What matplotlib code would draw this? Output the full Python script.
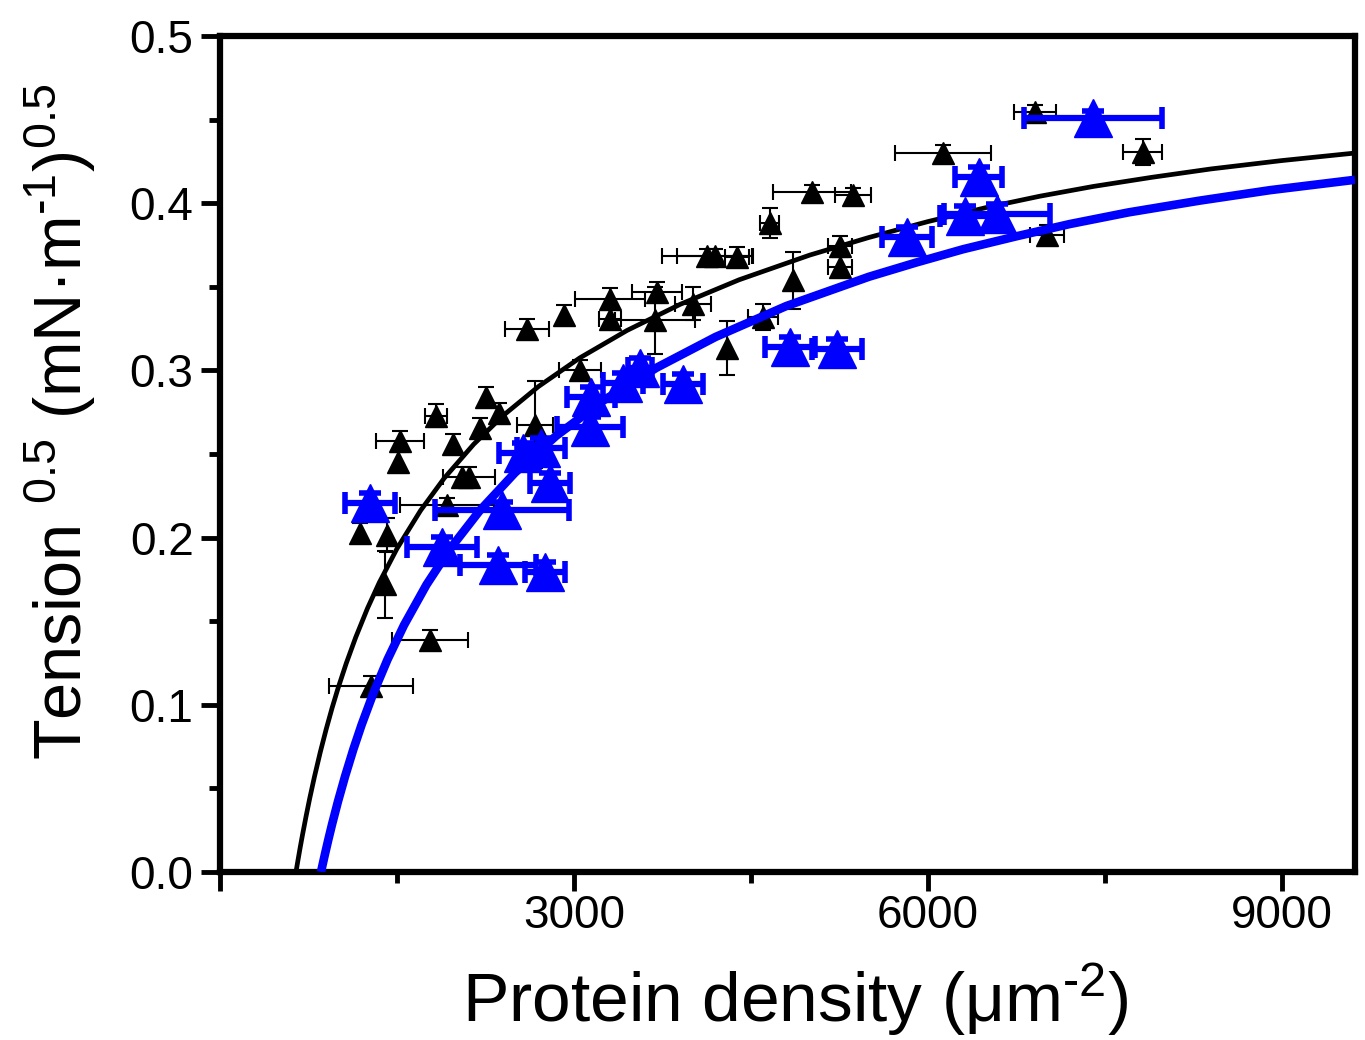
import matplotlib
matplotlib.use("Agg")
import matplotlib.pyplot as plt
from matplotlib.ticker import MultipleLocator

plt.rcParams['font.family'] = ['Liberation Sans', 'DejaVu Sans']
plt.rcParams['mathtext.fontset'] = 'custom'
plt.rcParams['mathtext.rm'] = 'Liberation Sans'
plt.rcParams['mathtext.it'] = 'Liberation Sans:italic'
plt.rcParams['mathtext.bf'] = 'Liberation Sans:bold'

# ---- data ----
black_x = [1280, 1780, 1398, 1186, 1415, 1525, 1508, 1830, 1975, 2050, 2110, 1924, 2254, 2203, 2364,
           2669, 2602, 2915, 3051, 3305, 3305, 3703, 3686, 4008, 4127, 4195, 4381, 4297, 4602, 4856,
           4661, 5017, 5364, 5254, 5254, 6127, 6907, 7822, 7008]
black_y = [0.111, 0.139, 0.172, 0.203, 0.2015, 0.258, 0.245, 0.273, 0.256, 0.236, 0.236, 0.2195, 0.284,
           0.2655, 0.2745, 0.2675, 0.325, 0.333, 0.300, 0.343, 0.331, 0.347, 0.330, 0.340, 0.3685,
           0.3685, 0.368, 0.3134, 0.332, 0.354, 0.388, 0.4067, 0.405, 0.3744, 0.362, 0.430, 0.4545,
           0.4306, 0.381]
black_xerr = [360, 325, 0, 0, 0, 200, 0, 95, 0, 0, 220, 400, 0, 0, 0, 150, 190, 0, 180, 300, 90, 210,
              340, 150, 380, 320, 100, 0, 130, 0, 80, 330, 150, 100, 100, 410, 180, 165, 145]
black_yerr = [0.006, 0.006, 0.02, 0.006, 0.01, 0.006, 0.006, 0.007, 0.006, 0.006, 0.006, 0.004, 0.006,
              0.006, 0.006, 0.026, 0.006, 0.006, 0.006, 0.006, 0.006, 0.006, 0.02, 0.01, 0.004, 0.004,
              0.006, 0.016, 0.008, 0.017, 0.009, 0.004, 0.004, 0.006, 0.006, 0.005, 0.004, 0.008, 0.006]

blue_x = [1271, 1881, 2356, 2754, 2390, 2797, 2568, 2720, 3136, 3144, 3415, 3559, 3924, 4831, 5229,
          5822, 6314, 6585, 6432, 7398]
blue_y = [0.2207, 0.1944, 0.1836, 0.1794, 0.2165, 0.2327, 0.2506, 0.2536, 0.2661, 0.284, 0.2925,
          0.3014, 0.2919, 0.314, 0.3128, 0.3798, 0.3923, 0.3935, 0.4157, 0.451]
blue_xerr = [210, 297, 320, 170, 570, 170, 200, 200, 280, 200, 170, 100, 170, 210, 210, 210, 210, 450,
             200, 585]
blue_yerr = [0.006, 0.006, 0.006, 0.006, 0.005, 0.006, 0.006, 0.006, 0.006, 0.006, 0.006, 0.006, 0.006,
             0.006, 0.006, 0.006, 0.006, 0.006, 0.006, 0.004]

# fitted curves
black_fit_x = [644, 660, 680, 700, 730, 760, 800, 850, 900, 950, 1000, 1070, 1150, 1250, 1350, 1500,
               1700, 1900, 2150, 2400, 2700, 3050, 3450, 3900, 4400, 5000, 5500, 6000, 6500, 6950,
               7400, 7900, 8400, 9000, 9620]
black_fit_y = [0.0, 0.0067, 0.0148, 0.0225, 0.0335, 0.0439, 0.0568, 0.0717, 0.0854, 0.0981, 0.1098,
               0.1248, 0.1403, 0.1577, 0.1731, 0.1934, 0.2162, 0.2355, 0.2558, 0.2730, 0.2904, 0.3075,
               0.3239, 0.3395, 0.3542, 0.3690, 0.3795, 0.3890, 0.3975, 0.4042, 0.4100, 0.4155,
               0.4205, 0.4255, 0.4300]
blue_fit_x = [856, 870, 890, 920, 950, 1000, 1060, 1130, 1200, 1300, 1420, 1560, 1750, 1950, 2200, 2500,
              2850, 3250, 3700, 4200, 4800, 5500, 5900, 6300, 6750, 7200, 7700, 8300, 8900, 9620]
blue_fit_y = [0.0, 0.0045, 0.0108, 0.0199, 0.0286, 0.0422, 0.0572, 0.0733, 0.0880, 0.1070, 0.1271,
              0.1477, 0.1718, 0.1933, 0.2160, 0.2388, 0.2609, 0.2820, 0.3016, 0.3200, 0.3385, 0.3560,
              0.3645, 0.3725, 0.3802, 0.3875, 0.3945, 0.4015, 0.4078, 0.4140]

x_ticks = [0, 3000, 6000, 9000]
x_ticklabels = ['', '3000', '6000', '9000']
y_ticks = [0.0, 0.1, 0.2, 0.3, 0.4, 0.5]

# ---- figure ----
W, H = 1365, 1040
fig = plt.figure(figsize=(W / 100, H / 100), dpi=100)
ax = fig.add_axes([220 / W, 1 - 872 / H, (1355 - 220) / W, (872 - 36) / H])

ax.plot(black_fit_x, black_fit_y, color='black', lw=3.4, zorder=2, solid_capstyle='butt',
        solid_joinstyle='round')
ax.errorbar(black_x, black_y, xerr=black_xerr, yerr=black_yerr, fmt='^', color='black',
            ms=15.5, ecolor='black', elinewidth=1.5, capsize=6, capthick=1.5, zorder=3)
ax.plot(blue_fit_x, blue_fit_y, color='#0000ff', lw=6.2, zorder=4, solid_capstyle='butt',
        solid_joinstyle='round')
ax.errorbar(blue_x, blue_y, xerr=blue_xerr, yerr=blue_yerr, fmt='^', color='#0000ff',
            ms=27, ecolor='#0000ff', elinewidth=4.5, capsize=8, capthick=4, zorder=5)

ax.set_xlim(0, 9620)
ax.set_ylim(0, 0.5)
ax.set_xticks(x_ticks)
ax.set_xticklabels(x_ticklabels)
ax.set_yticks(y_ticks)
ax.set_yticklabels([f"{v:.1f}" for v in y_ticks])
ax.xaxis.set_minor_locator(MultipleLocator(1500))
ax.yaxis.set_minor_locator(MultipleLocator(0.05))

for s in ax.spines.values():
    s.set_linewidth(4.5)
ax.tick_params(which='major', direction='out', length=14, width=3.5, labelsize=33, pad=2)
ax.tick_params(which='minor', direction='out', length=8, width=3.5)
ax.tick_params(axis='y', which='major', pad=5)
ax.tick_params(top=False, right=False, which='both')

fig.text(795 / W, 1 - 1000 / H, r'Protein density (μm$^{\text{-}2}$)', ha='center', va='center',
         fontsize=50)
fig.text(60 / W, 1 - 422 / H, r'Tension $^{0.5}$ (mN·m$^{\text{-}1}$)$^{0.5}$', ha='center',
         va='center', fontsize=48, rotation=90)

fig.savefig('out.png', dpi=100)
